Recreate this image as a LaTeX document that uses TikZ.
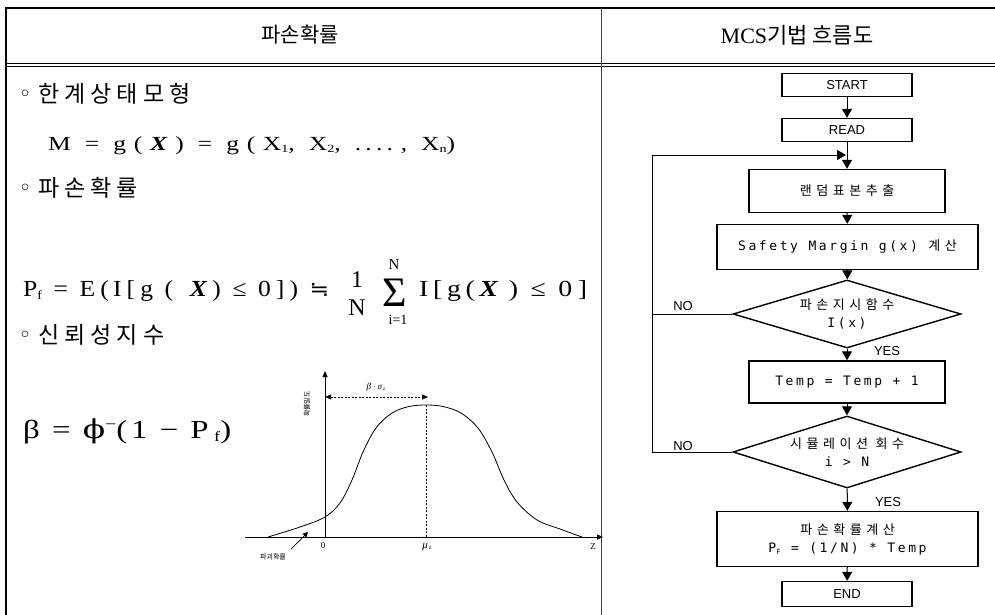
\documentclass[tikz,border=0pt]{standalone}
\usepackage{fontspec}
\setmainfont{Liberation Serif}
\newfontfamily\kr{Noto Sans CJK KR}
\newfontfamily\krs[LetterSpace=22]{Noto Sans CJK KR}
\newfontfamily\krf[LetterSpace=35]{Noto Sans CJK KR}
\newfontfamily\fsans{Liberation Sans}
\newfontfamily\fmono[LetterSpace=20]{DejaVu Sans Mono}
\newfontfamily\dv{DejaVu Sans}
\newfontfamily\dvs{DejaVu Serif}
\newfontfamily\eqm[LetterSpace=30]{Liberation Serif}
\newfontfamily\eqp[LetterSpace=20]{Liberation Serif}
\newfontfamily\eqb[LetterSpace=12]{Liberation Serif}
\usetikzlibrary{shapes.geometric,arrows.meta}
\newcommand{\lsub}[1]{\raisebox{-0.3ex}{\scalebox{0.55}{#1}}}
\newcommand{\bX}{\textbf{\textit{X}}}
\begin{document}
\begin{tikzpicture}[x=1pt,y=-1pt,
  box/.style={draw,line width=1.4pt,rectangle,inner sep=0pt,align=center},
  dia/.style={draw,line width=1.4pt,diamond,inner sep=0pt},
  arr/.style={line width=1pt,-{Triangle[width=10pt,length=9pt]}},
  ln/.style={line width=1pt},
  lab/.style={font=\fsans\fontsize{13}{13}\selectfont,inner sep=0pt},
  mono/.style={font=\fmono\fontsize{13}{15}\selectfont},
  head/.style={inner sep=0pt,font=\fontsize{21}{21}\selectfont},
  bul/.style={inner sep=0pt,anchor=west,font=\krs\fontsize{23}{23}\selectfont},
  dot/.style={inner sep=0pt,font=\dv\fontsize{22}{22}\selectfont},
  eq/.style={inner sep=0pt,anchor=base west},
  tiny/.style={inner sep=0pt,font=\fontsize{9}{9}\selectfont},
  small/.style={-{Triangle[width=5pt,length=6pt]},line width=0.8pt}
]
\path[use as bounding box,fill=white] (0,0) rectangle (995,615);

% table
\draw[line width=2.5pt] (5,8) -- (995,8);
\draw[line width=2.5pt] (6,7) -- (6,615);
\draw[line width=0.8pt] (6,63) -- (995,63);
\draw[line width=0.8pt] (6,66.5) -- (995,66.5);
\draw[line width=1pt,black!75] (601,8) -- (601,615);

% headers
\node[head] (h1) at (300,35) {\kr 파손확률};
\node[head,font=\fontsize{22}{22}\selectfont] (h2) at (797,35) {MCS{\kr 기법 흐름도}};

% left column
\node[dot] (o1) at (25,96) {◦};
\node[bul] (b1) at (38,94) {한계상태모형};
\node[eq,font=\eqm\fontsize{20}{20}\selectfont] (m) at (48,150)
  {\resizebox{407pt}{\height}{M = g(\bX) = g(X\lsub{1}, X\lsub{2}, .\,.\,.\,., X\lsub{n})}};
\node[dot] (o2) at (25,190) {◦};
\node[bul] (b2) at (38,188) {파손확률};

\node[eq,font=\eqp\fontsize{23}{23}\selectfont] (pf1) at (23,296)
  {\resizebox{306pt}{\height}{P\lsub{f} = E(\,I[g ( \bX) ≤ 0]) {\dv\fontsize{21}{21}\selectfont ≒}}};
\node[inner sep=0pt,font=\fontsize{24}{24}\selectfont] (fn) at (357,280) {1};
\node[inner sep=0pt,font=\fontsize{24}{24}\selectfont] (fd) at (357,308) {N};
\node[inner sep=0pt,text height=29pt,text depth=0pt,font=\fontsize{42}{42}\selectfont] (sig) at (395,292) {Σ};
\node[inner sep=0pt,font=\fontsize{15}{15}\selectfont] (sN) at (394,265) {N};
\node[inner sep=0pt,font=\fontsize{14}{14}\selectfont] (si) at (398,320) {i=1};
\node[eq,font=\eqp\fontsize{23}{23}\selectfont] (pf2) at (419,296)
  {\resizebox{168pt}{\height}{I\,[\,g\,(\,\bX\,) ≤ 0]}};

\node[dot] (o3) at (25,337) {◦};
\node[bul] (b3) at (38,335) {신뢰성지수};
\node[eq,font=\eqb\fontsize{26}{26}\selectfont] (beta) at (23,438)
  {\resizebox{208pt}{\height}{β = {\dvs ϕ}\raisebox{0.7ex}{\scalebox{0.6}{−}}(1 − P\,\lsub{f})}};

% plot
\coordinate (xs) at (245,537);
\coordinate (xe) at (603,537);
\coordinate (ys) at (325,537);
\coordinate (ye) at (325,371);
\coordinate (pk) at (426,405);
\coordinate (pb) at (426,537);
\coordinate (da) at (325,397);
\coordinate (db) at (428,397);
\draw[small] (xs) -- (xe);
\draw[small] (ys) -- (ye);
\draw[line width=0.8pt] plot[smooth,tension=0.55] coordinates {
 (268,537) (300,527) (325,517) (340,503) (352,480) (363,452) (376,428) (392,413) (409,406.5) (426,405)
 (443,406.5) (461,413) (478,428) (492,452) (504,480) (517,502) (537,520) (560,529) (582,537)};
\draw[line width=0.7pt,dash pattern=on 2pt off 1.5pt] (pk) -- (pb);
\draw[line width=0.7pt,dash pattern=on 2pt off 1.5pt,{Triangle[width=5pt,length=6pt]}-{Triangle[width=5pt,length=6pt]}] (da) -- (db);
\node[tiny] (bs) at (376,387) {\textit{β} $\cdot$\,\textit{σ}\lsub{\,z}};
\node[tiny,rotate=90,font=\kr\fontsize{7}{7}\selectfont] (yl) at (307,404) {확률밀도};
\node[tiny] (zero) at (323,546) {0};
\node[tiny,font=\fontsize{11}{11}\selectfont] (mu) at (427,547) {\textit{μ}\lsub{\,z}};
\node[tiny] (zz) at (593,547) {Z};
\node[tiny,font=\kr\fontsize{7}{7}\selectfont] (pfl) at (273,557) {파괴확률};
\coordinate (pa) at (291,549);
\coordinate (pb2) at (308,532);
\draw[line width=0.7pt,-{Triangle[width=5pt,length=5pt]}] (pa) -- (pb2);

% flowchart
\node[box,minimum width=130pt,minimum height=23pt,font=\fsans\fontsize{13}{13}\selectfont] (start) at (847,85) {START};
\node[box,minimum width=130pt,minimum height=23pt,font=\fsans\fontsize{13}{13}\selectfont] (read) at (847,130) {READ};
\node[box,minimum width=196pt,minimum height=43pt,font=\fontsize{13}{13}\selectfont] (rand) at (847,191) {\krf 랜덤표본추출};
\node[box,minimum width=261pt,minimum height=45pt,mono] (safe) at (847.5,247) {Safety Margin g(x) {\krf 계산}};
\node[dia,minimum width=228pt,minimum height=68pt] (d1) at (847,314) {};
\node[inner sep=0pt,align=center,font=\fontsize{13}{19}\selectfont] (d1t) at (d1.center) {{\krf 파손지시함수}\\[-1pt]{\fmono I(x)}};
\node[box,minimum width=196pt,minimum height=42pt,mono] (temp) at (847,382) {Temp = Temp + 1};
\node[dia,minimum width=228pt,minimum height=72pt] (d2) at (847,452) {};
\node[inner sep=0pt,align=center,font=\fontsize{13}{19}\selectfont] (d2t) at (d2.center) {{\krf 시뮬레이션 회수}\\[-1pt]{\fmono i > N}};
\node[box,minimum width=261pt,minimum height=55pt,font=\fontsize{13}{18}\selectfont] (calc) at (847.5,539) {{\krf 파손확률계산}\\{\fmono P\lsub{F} = (1/N) * Temp}};
\node[box,minimum width=130pt,minimum height=25pt,font=\fsans\fontsize{13}{13}\selectfont] (endn) at (847,594) {END};

\coordinate (lt) at (652,155);
\coordinate (lj) at (846,155);
\draw[arr] (start) -- (read);
\draw[arr] (read) -- (rand);
\draw[arr] (rand) -- (safe);
\draw[arr] (safe) -- (d1);
\draw[arr] (d1) -- (temp);
\draw[arr] (temp) -- (d2);
\draw[arr] (d2) -- (calc);
\draw[arr] (calc) -- (endn);
\draw[arr] (d1.west) -| (lt) -- (lj);
\draw[ln] (d2.west) -| (lt);

\node[lab] (no1) at (683,306) {NO};
\node[lab] (no2) at (683,446) {NO};
\node[lab] (yes1) at (887,351) {YES};
\node[lab] (yes2) at (888,502) {YES};
\end{tikzpicture}
\end{document}
